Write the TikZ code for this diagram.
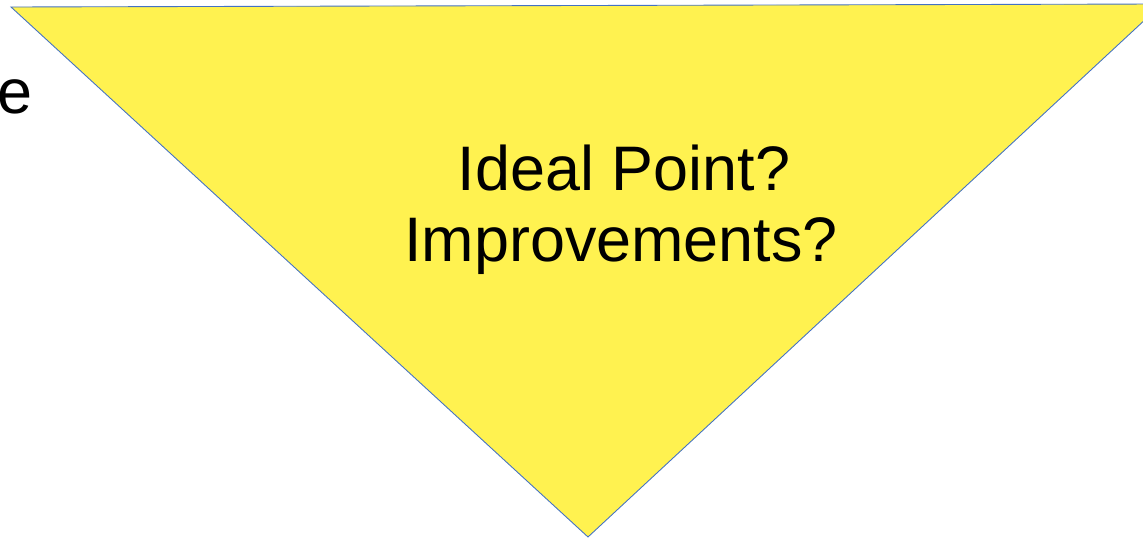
\documentclass[tikz,border=0pt]{standalone}
\usepackage{fontspec}
\setmainfont{Liberation Sans}
\usetikzlibrary{positioning}
\definecolor{funnelYellow}{RGB}{255,242,80}
\definecolor{funnelEdge}{RGB}{68,114,196}

\begin{document}
\begin{tikzpicture}[
    x=0.02cm, y=-0.02cm,
    big/.style={font=\fontsize{35.8}{40.5}\selectfont, inner sep=0pt, text=black},
    funnel/.style={fill=funnelYellow, draw=funnelEdge, line width=0.5pt}
  ]
  \useasboundingbox (0,0) rectangle (1143,540);
  \clip (0,0) rectangle (1143,540);

  \coordinate (tl) at (11,7);
  \coordinate (tr) at (1162,4);
  \coordinate (tip) at (588,537);
  \draw[funnel] (tl) -- (tr) -- (tip) -- cycle;

  % cut-off word on the left
  \node[big, anchor=base west] (cut) at (-3,114) {e};

  \node[big, anchor=base] (ideal) at (624,191) {Ideal Point?};
  \node[big, anchor=base] (impr)  at (621,262) {Improvements?};
\end{tikzpicture}
\end{document}
